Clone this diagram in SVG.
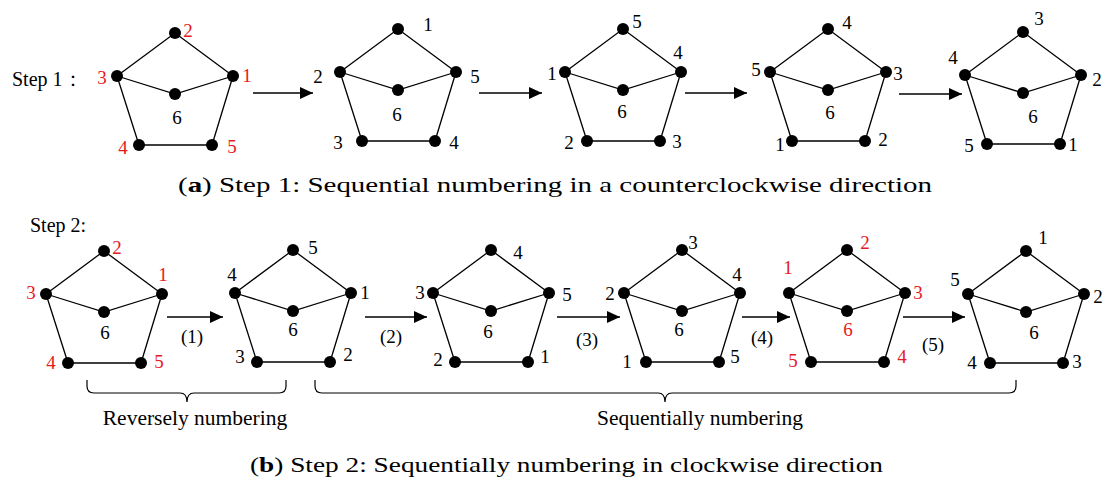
<svg xmlns="http://www.w3.org/2000/svg" width="1104" height="484" viewBox="0 0 1104 484">
<style>
.edge{stroke:#000;stroke-width:1.3;fill:none}
.dot{fill:#000}
.lb{font-family:"Liberation Serif","Times New Roman",serif;font-size:19px;fill:#000;text-anchor:middle}
.r{fill:#e6191e}
.tx{font-family:"Liberation Serif","Times New Roman",serif;font-size:20px;fill:#000}
.bl{font-family:"Liberation Serif","Times New Roman",serif;font-size:21.5px;fill:#000;text-anchor:middle}
.cap{font-family:"Liberation Serif","Times New Roman",serif;font-size:22px;fill:#000}
.arr{stroke:#000;stroke-width:1.6;fill:none;marker-end:url(#ah)}
.brace{stroke:#000;stroke-width:1.2;fill:none}
</style>
<defs>
<marker id="ah" markerUnits="userSpaceOnUse" markerWidth="14" markerHeight="13" refX="13" refY="6" orient="auto">
<path d="M0,0 L13,6 L0,12 z" fill="#000"/>
</marker>
<g id="pent">
<path class="edge" d="M-58,43 L0,0 L58,43 M-58,43 L0,61 L58,43 M-58,43 L-36,112 L37,112 L58,43"/>
<circle class="dot" cx="0" cy="0" r="6"/>
<circle class="dot" cx="-58" cy="43" r="6"/>
<circle class="dot" cx="58" cy="43" r="6"/>
<circle class="dot" cx="0" cy="61" r="6"/>
<circle class="dot" cx="-36" cy="112" r="6"/>
<circle class="dot" cx="37" cy="112" r="6"/>
</g>
</defs>
<rect width="1104" height="484" fill="#fff"/>

<text class="tx" x="12" y="86">Step 1：</text>
<text class="tx" x="30" y="232">Step 2:</text>

<g id="g1">
<use href="#pent" x="175" y="33"/>
<text class="lb r" x="188" y="37">2</text>
<text class="lb r" x="102" y="84">3</text>
<text class="lb r" x="247" y="82">1</text>
<text class="lb" x="177" y="124">6</text>
<text class="lb r" x="123" y="154">4</text>
<text class="lb r" x="232" y="153">5</text>
</g>
<g id="g2">
<use href="#pent" x="398" y="29"/>
<text class="lb" x="428" y="31">1</text>
<text class="lb" x="318" y="83">2</text>
<text class="lb" x="475" y="83">5</text>
<text class="lb" x="397" y="121">6</text>
<text class="lb" x="338" y="149">3</text>
<text class="lb" x="454" y="149">4</text>
</g>
<g id="g3">
<use href="#pent" x="623" y="29"/>
<text class="lb" x="637" y="28">5</text>
<text class="lb" x="678" y="59">4</text>
<text class="lb" x="552" y="80">1</text>
<text class="lb" x="622" y="118">6</text>
<text class="lb" x="569" y="149">2</text>
<text class="lb" x="677" y="148">3</text>
</g>
<g id="g4">
<use href="#pent" x="828" y="29"/>
<text class="lb" x="847" y="29">4</text>
<text class="lb" x="756" y="76">5</text>
<text class="lb" x="898" y="80">3</text>
<text class="lb" x="830" y="119">6</text>
<text class="lb" x="780" y="151">1</text>
<text class="lb" x="883" y="146">2</text>
</g>
<g id="g5">
<use href="#pent" x="1023" y="32"/>
<text class="lb" x="1039" y="25">3</text>
<text class="lb" x="953" y="64">4</text>
<text class="lb" x="1097" y="86">2</text>
<text class="lb" x="1033" y="123">6</text>
<text class="lb" x="969" y="152">5</text>
<text class="lb" x="1073" y="151">1</text>
</g>

<g id="b1">
<use href="#pent" x="104" y="251"/>
<text class="lb r" x="117" y="254">2</text>
<text class="lb r" x="163" y="281">1</text>
<text class="lb r" x="31" y="299">3</text>
<text class="lb" x="105" y="339">6</text>
<text class="lb r" x="51" y="369">4</text>
<text class="lb r" x="159" y="368">5</text>
</g>
<g id="b2">
<use href="#pent" x="293" y="250"/>
<text class="lb" x="313" y="254">5</text>
<text class="lb" x="232" y="281">4</text>
<text class="lb" x="365" y="299">1</text>
<text class="lb" x="293" y="336">6</text>
<text class="lb" x="240" y="363">3</text>
<text class="lb" x="348" y="361">2</text>
</g>
<g id="b3">
<use href="#pent" x="491" y="250"/>
<text class="lb" x="518" y="259">4</text>
<text class="lb" x="420" y="299">3</text>
<text class="lb" x="567" y="301">5</text>
<text class="lb" x="488" y="338">6</text>
<text class="lb" x="438" y="366">2</text>
<text class="lb" x="545" y="363">1</text>
</g>
<g id="b4">
<use href="#pent" x="682" y="250"/>
<text class="lb" x="693" y="249">3</text>
<text class="lb" x="610" y="300">2</text>
<text class="lb" x="737" y="281">4</text>
<text class="lb" x="679" y="336">6</text>
<text class="lb" x="627" y="368">1</text>
<text class="lb" x="735" y="363">5</text>
</g>
<g id="b5">
<use href="#pent" x="847" y="250"/>
<text class="lb r" x="865" y="249">2</text>
<text class="lb r" x="788" y="274">1</text>
<text class="lb r" x="918" y="299">3</text>
<text class="lb r" x="848" y="336">6</text>
<text class="lb r" x="793" y="367">5</text>
<text class="lb r" x="902" y="363">4</text>
</g>
<g id="b6">
<use href="#pent" x="1026" y="251"/>
<text class="lb" x="1043" y="244">1</text>
<text class="lb" x="955" y="286">5</text>
<text class="lb" x="1098" y="303">2</text>
<text class="lb" x="1034" y="339">6</text>
<text class="lb" x="972" y="369">4</text>
<text class="lb" x="1077" y="368">3</text>
</g>

<g id="connectors">
<line class="arr" x1="253" y1="93" x2="313" y2="93"/>
<line class="arr" x1="479" y1="93" x2="542" y2="93"/>
<line class="arr" x1="685" y1="93" x2="747" y2="93"/>
<line class="arr" x1="899" y1="94" x2="962" y2="94"/>
<line class="arr" x1="167" y1="317" x2="223" y2="317"/>
<line class="arr" x1="365" y1="317" x2="427" y2="317"/>
<line class="arr" x1="557" y1="317" x2="620" y2="317"/>
<line class="arr" x1="742" y1="317" x2="790" y2="317"/>
<line class="arr" x1="903" y1="317" x2="965" y2="317"/>
<text class="lb" x="192" y="343">(1)</text>
<text class="lb" x="391" y="343">(2)</text>
<text class="lb" x="587" y="346">(3)</text>
<text class="lb" x="762" y="344">(4)</text>
<text class="lb" x="933" y="351">(5)</text>
</g>

<g id="braces">
<path class="brace" d="M87,380 L87,386 Q87,393 94,393 L180,393 Q187,393 187,402 Q187,393 194,393 L279,393 Q286,393 286,386 L286,380"/>
<path class="brace" d="M315,380 L315,386 Q315,393 322,393 L658,393 Q665,393 665,402 Q665,393 672,393 L1009,393 Q1016,393 1016,386 L1016,380"/>
<text class="bl" x="195" y="425">Reversely numbering</text>
<text class="bl" x="700" y="425">Sequentially numbering</text>
</g>

<text class="cap" x="178" y="192" textLength="754" lengthAdjust="spacingAndGlyphs">(<tspan font-weight="bold">a</tspan>) Step 1: Sequential numbering in a counterclockwise direction</text>
<text class="cap" x="250" y="472" textLength="633" lengthAdjust="spacingAndGlyphs">(<tspan font-weight="bold">b</tspan>) Step 2: Sequentially numbering in clockwise direction</text>
</svg>
